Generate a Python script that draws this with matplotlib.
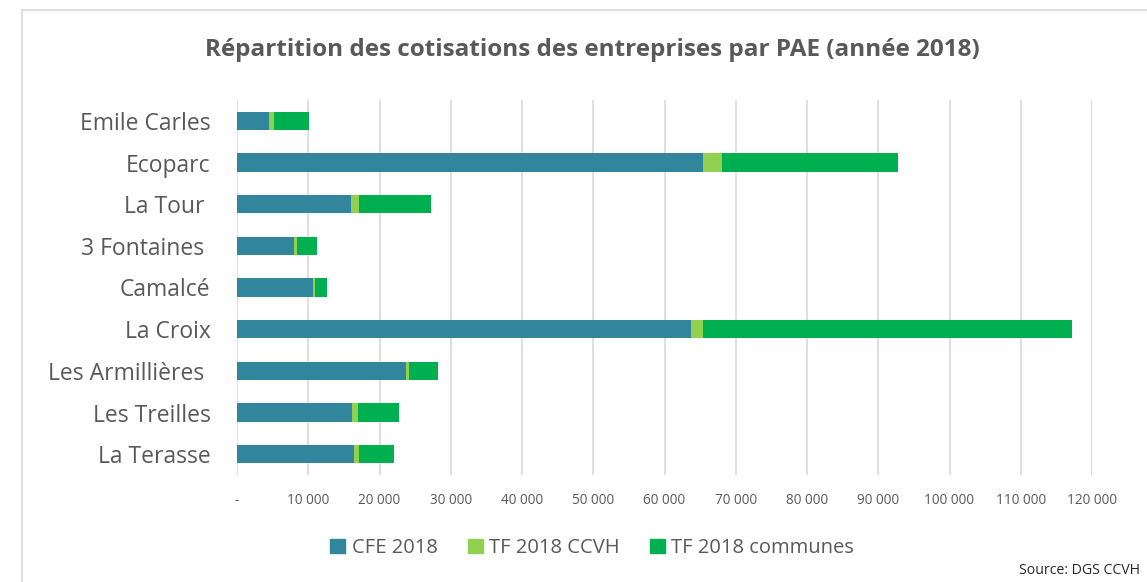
import matplotlib
matplotlib.use('Agg')
import matplotlib.pyplot as plt
import matplotlib.patches as mpatches
from matplotlib.ticker import FuncFormatter, MultipleLocator
import numpy as np

# ── Data ──────────────────────────────────────────────────────────────────────
zones = ['Emile Carles', 'Ecoparc', 'La Tour ', '3 Fontaines ', 'Camalcé',
         'La Croix', 'Les Armillières ', 'Les Treilles', 'La Terasse']
cfe_2018 = [4500, 65400, 15950, 8050, 10700, 63750, 23650, 16150, 16400]
tf_ccvh = [650, 2600, 1150, 330, 240, 1650, 450, 900, 750]
tf_communes = [4900, 24750, 10100, 2850, 1730, 51850, 4170, 5740, 4900]
series_names = ['CFE 2018', 'TF 2018 CCVH', 'TF 2018 communes']

C_CFE = "#31859C"
C_CCVH = "#92D050"
C_COMM = "#00B050"
C_TEXT = "#595959"
C_GRID = "#D9D9D9"
FONT = 'Open Sans'

fig = plt.figure(figsize=(11.47, 5.82), dpi=100)
fig.patch.set_facecolor('white')

# outer chart border
border = mpatches.Rectangle((22/1147, -0.05), 1.2, 1 - 10/582 + 0.05,
                            transform=fig.transFigure, fill=False,
                            edgecolor=C_GRID, linewidth=1.2)
fig.patches.append(border)

ax = fig.add_axes([237/1147, 1 - 475/582, 855/1147, 375/582])

y = np.arange(len(zones))
cfe = np.array(cfe_2018)
ccvh = np.array(tf_ccvh)
comm = np.array(tf_communes)
h = 0.44
ax.barh(y, cfe, height=h, color=C_CFE, zorder=3)
ax.barh(y, ccvh, left=cfe, height=h, color=C_CCVH, zorder=3)
ax.barh(y, comm, left=cfe + ccvh, height=h, color=C_COMM, zorder=3)

ax.set_xlim(0, 120000)
ax.set_ylim(len(zones) - 0.5, -0.5)
ax.xaxis.set_major_locator(MultipleLocator(10000))

def fmt(v, pos):
    if v == 0:
        return '-'
    return f'{int(v):,}'.replace(',', ' ')

ax.xaxis.set_major_formatter(FuncFormatter(fmt))
ax.grid(axis='x', color=C_GRID, linewidth=1.2, zorder=0)
ax.set_axisbelow(True)
for s in ax.spines.values():
    s.set_visible(False)
ax.tick_params(axis='both', length=0)
ax.tick_params(axis='x', pad=13, labelsize=9.8, labelcolor=C_TEXT)
ax.tick_params(axis='y', pad=19, labelsize=16.5, labelcolor=C_TEXT)
ax.set_yticks(y)
ax.set_yticklabels(zones, fontfamily=FONT)
for lbl in ax.get_xticklabels():
    lbl.set_fontfamily(FONT)

fig.text(592/1147, 1 - 50/582,
         'Répartition des cotisations des entreprises par PAE (année 2018)',
         ha='center', va='center', fontsize=17.5, fontweight='bold',
         color=C_TEXT, fontfamily=FONT)

handles = [mpatches.Patch(color=c, label=n)
           for c, n in zip([C_CFE, C_CCVH, C_COMM], series_names)]
fig.legend(handles=handles, loc='center', bbox_to_anchor=(592/1147, 1 - 548/582),
           ncol=3, frameon=False, labelcolor=C_TEXT,
           handlelength=0.75, handleheight=0.75, handletextpad=0.3,
           columnspacing=1.5, prop={'family': FONT, 'size': 14.5})

fig.text(1140/1147, 1 - 570/582, 'Source: DGS CCVH', ha='right', va='center',
         fontsize=10.2, color='#262626', fontfamily=FONT)

plt.savefig('out.png', dpi=100, facecolor='white')
plt.close()
